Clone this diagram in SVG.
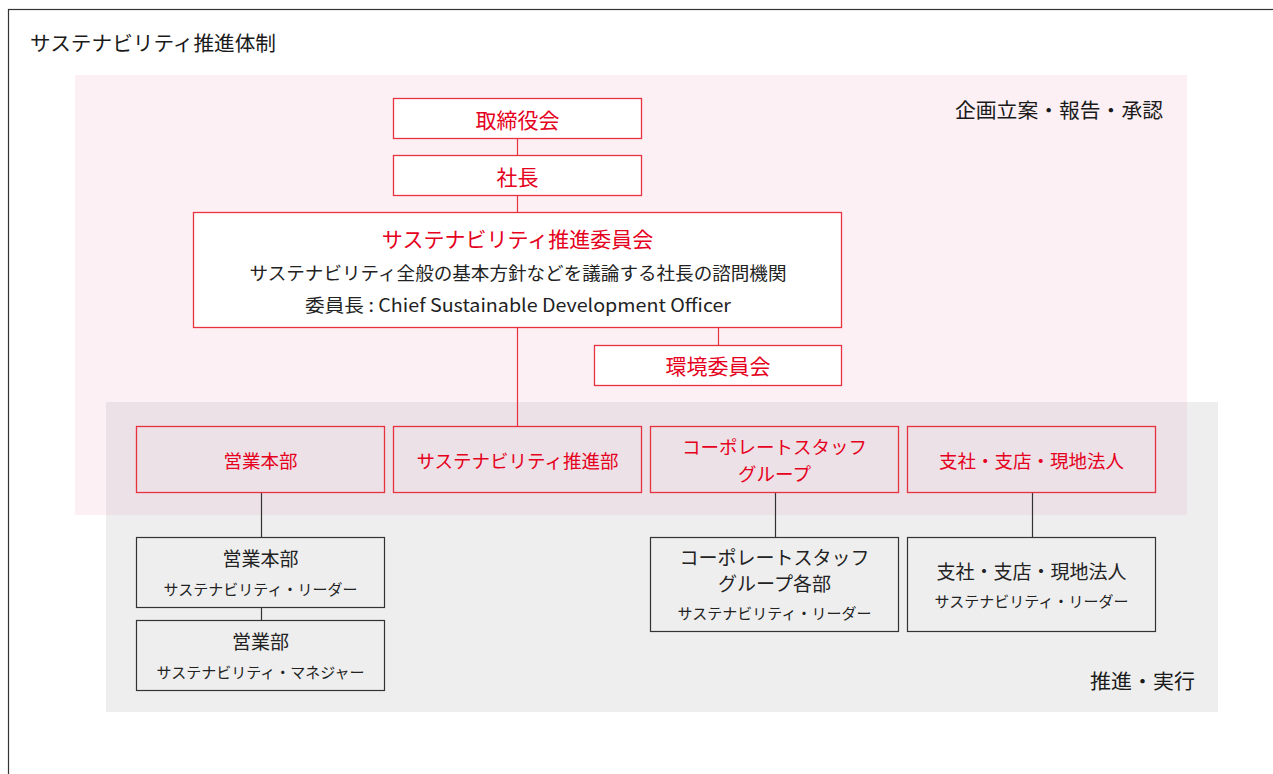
<svg xmlns="http://www.w3.org/2000/svg" width="1273" height="774" viewBox="0 0 1273 774">
<style>
text{font-family:"Noto Sans CJK JP","Noto Sans",sans-serif;text-anchor:middle;dominant-baseline:central}
.lbl{fill:#1a1a1a;font-size:20.5px;text-anchor:start}
.rb{fill:#fff;stroke:#e8323f;stroke-width:1.3}
.rt{fill:none;stroke:#e8323f;stroke-width:1.3}
.gb{fill:none;stroke:#333;stroke-width:1.2}
.red{fill:#e50020}
.r20{font-size:21px}
.r18{font-size:18.5px}
.k{fill:#222}
.k18{font-size:19px}
.k15{font-size:15px}
.cr{stroke:#e8323f;stroke-width:1.2;fill:none}
.cg{stroke:#333;stroke-width:1.2;fill:none}
</style>
<rect x="8.5" y="9.5" width="1300" height="800" fill="#fff" stroke="#333" stroke-width="1.2"/>
<text class="lbl" x="30" y="42" textLength="246" lengthAdjust="spacingAndGlyphs">サステナビリティ推進体制</text>
<rect x="75" y="75" width="1112" height="440" fill="#fcf0f5"/>
<rect x="106" y="402" width="1112" height="310" fill="#eeeeee"/>
<rect x="106" y="402" width="1081" height="113" fill="#ece1e7"/>
<text class="lbl" x="955" y="109" textLength="208" lengthAdjust="spacingAndGlyphs">企画立案・報告・承認</text>
<text class="lbl" x="1090" y="680" textLength="105" lengthAdjust="spacingAndGlyphs">推進・実行</text>
<g id="connectors">
<path class="cr" d="M517.5 139V155M517.5 196V212M517.5 328V426M718.5 328V345"/>
<path class="cg" d="M261.5 493V537M261.5 607V620M775.5 493V537M1032.5 493V537"/>
</g>
<g id="board"><rect class="rb" x="393.5" y="98.5" width="248" height="40"/><text class="red r20" x="517.5" y="119">取締役会</text></g>
<g id="president"><rect class="rb" x="393.5" y="155.5" width="248" height="40"/><text class="red r20" x="517.5" y="176">社長</text></g>
<g id="committee"><rect class="rb" x="193.5" y="212.5" width="648" height="115"/>
<text class="red r20" x="517.5" y="238">サステナビリティ推進委員会</text>
<text class="k" x="518" y="272" font-size="18" textLength="537" lengthAdjust="spacingAndGlyphs">サステナビリティ全般の基本方針などを議論する社長の諮問機関</text>
<text class="k" x="518" y="304" font-size="18" textLength="426" lengthAdjust="spacingAndGlyphs">委員長 : Chief Sustainable Development Officer</text></g>
<g id="env"><rect class="rb" x="594.5" y="345.5" width="247" height="40"/><text class="red r20" x="718" y="365">環境委員会</text></g>
<g id="sales-hq"><rect class="rt" x="136.5" y="426.5" width="248" height="66"/><text class="red r18" x="260.5" y="460">営業本部</text></g>
<g id="sus-dept"><rect class="rt" x="393.5" y="426.5" width="248" height="66"/><text class="red r18" x="517.5" y="460">サステナビリティ推進部</text></g>
<g id="corp-staff"><rect class="rt" x="650.5" y="426.5" width="248" height="66"/><text class="red r18" x="774.5" y="446">コーポレートスタッフ</text><text class="red r18" x="774.5" y="473">グループ</text></g>
<g id="branches"><rect class="rt" x="907.5" y="426.5" width="248" height="66"/><text class="red r18" x="1031.5" y="460">支社・支店・現地法人</text></g>
<g id="sales-hq-leader"><rect class="gb" x="136.5" y="537.5" width="248" height="70"/><text class="k k18" x="260.5" y="557">営業本部</text><text class="k k15" x="260.5" y="588">サステナビリティ・リーダー</text></g>
<g id="sales-mgr"><rect class="gb" x="136.5" y="620.5" width="248" height="70"/><text class="k k18" x="260.5" y="640">営業部</text><text class="k k15" x="260.5" y="671">サステナビリティ・マネジャー</text></g>
<g id="corp-leader"><rect class="gb" x="650.5" y="537.5" width="248" height="94"/><text class="k k18" x="774.5" y="556">コーポレートスタッフ</text><text class="k k18" x="774.5" y="582">グループ各部</text><text class="k k15" x="774.5" y="612">サステナビリティ・リーダー</text></g>
<g id="branch-leader"><rect class="gb" x="907.5" y="537.5" width="248" height="94"/><text class="k k18" x="1031.5" y="570">支社・支店・現地法人</text><text class="k k15" x="1031.5" y="600">サステナビリティ・リーダー</text></g>
</svg>
